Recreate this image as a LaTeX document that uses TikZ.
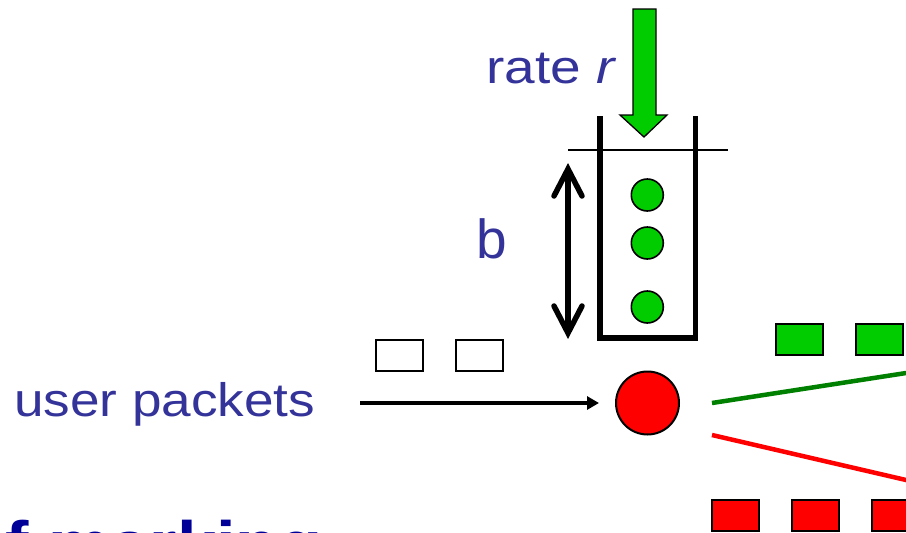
\documentclass[tikz,border=0pt]{standalone}
\usepackage{fontspec}
\setmainfont{Liberation Sans}
\usetikzlibrary{arrows.meta}
\definecolor{txtblue}{RGB}{51,51,153}
\definecolor{navyt}{RGB}{0,0,153}
\definecolor{pgreen}{RGB}{0,204,0}
\definecolor{lgreen}{RGB}{0,128,0}
\definecolor{pred}{RGB}{255,0,0}
\tikzset{
  lbl/.style={text=txtblue, inner sep=0pt, anchor=base west, font=\fontsize{47}{56}\selectfont},
  pkt/.style={draw=black, line width=2.4pt, minimum width=47pt, minimum height=31pt, inner sep=0pt},
  token/.style={circle, draw=black, line width=1.6pt, fill=pgreen, minimum size=32pt, inner sep=0pt},
  wall/.style={line width=5.5pt, line join=miter},
  dimarrow/.style={line width=5.5pt},
  flowline/.style={line width=4.5pt}
}
\begin{document}
\begin{tikzpicture}[x=1pt,y=-1pt]
\useasboundingbox (0,0) rectangle (906,533);
\clip (0,0) rectangle (906,533);
% labels
\node[lbl, xscale=1.17] (rate) at (486,83) {rate \textit{r}};
\node[lbl, font=\fontsize{55}{66}\selectfont] (b) at (476,258) {b};
\node[lbl, xscale=1.13] (user) at (14,416) {user packets};
\node[inner sep=0pt, anchor=base west, text=navyt, xscale=1.1, font=\bfseries\fontsize{64}{76}\selectfont] (fm) at (5,566) {f marking};
% green token arrow
\draw[line width=1.3pt, fill=pgreen, line join=miter] (633,9) -- (656,9) -- (656,115) -- (667,115) -- (644,137) -- (620,115) -- (633,115) -- cycle;
% bucket
\draw[line width=1.5pt] (568,150) -- (728,150);
\draw[wall] (600,116) -- (600,338) -- (695.5,338) -- (695.5,116);
% tokens
\node[token] (t1) at (647.3,195) {};
\node[token] (t2) at (647.3,243) {};
\node[token] (t3) at (647.3,307) {};
% bucket depth arrow
\coordinate (dtop) at (568,169);
\coordinate (dbot) at (568,333);
\draw[dimarrow] (dtop) -- (dbot);
\draw[dimarrow, line join=miter, line cap=round] (554,196) -- (dtop) -- (582,196);
\draw[dimarrow, line join=miter, line cap=round] (554,306) -- (dbot) -- (582,306);
% marker
\node[circle, draw=black, line width=2pt, fill=pred, minimum size=63pt, inner sep=0pt] (mark) at (647.5,403) {};
% incoming packets
\node[pkt] (w1) at (399.5,355.5) {};
\node[pkt] (w2) at (479.5,355.5) {};
\coordinate (ustart) at (360,403);
\draw[line width=4pt, -{Triangle[length=12pt,width=13pt]}, shorten >=16pt] (ustart) -- (mark.west);
% outgoing
\coordinate (gs) at (712,403);
\coordinate (ge) at (1000,358.5);
\coordinate (rs) at (712,435);
\coordinate (re) at (1000,501.8);
\draw[flowline, draw=lgreen] (gs) -- (ge);
\draw[flowline, draw=pred] (rs) -- (re);
\node[pkt, fill=pgreen] (g1) at (799.5,339.5) {};
\node[pkt, fill=pgreen] (g2) at (879.5,339.5) {};
\node[pkt, fill=pred] (r1) at (735.5,515.5) {};
\node[pkt, fill=pred] (r2) at (815.5,515.5) {};
\node[pkt, fill=pred] (r3) at (895.5,515.5) {};
\end{tikzpicture}
\end{document}
